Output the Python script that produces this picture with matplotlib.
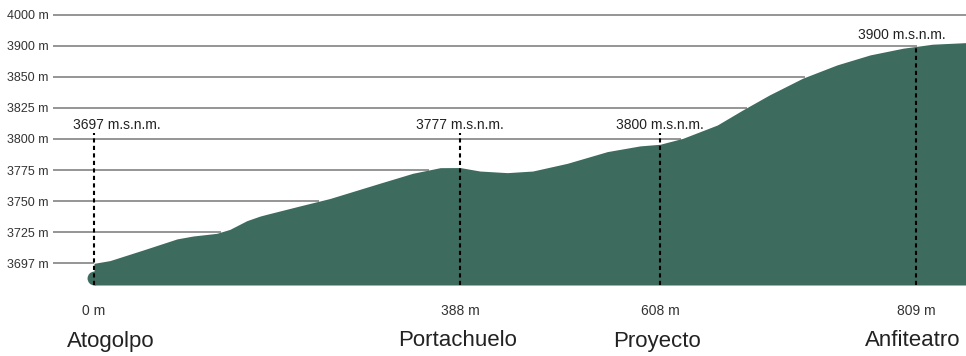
import numpy as np
import matplotlib
matplotlib.use("Agg")
import matplotlib.pyplot as plt

# elevation profile of the route (distance in m, altitude in m)
profile_dist = [0, 17, 52, 88, 105, 130, 144, 162, 176, 183, 218, 250, 303,
                338, 367, 388, 410, 440, 468, 506, 550, 586, 608, 626, 653,
                673, 694, 720, 747, 773, 799, 822, 849]
profile_elev = [3697, 3699.5, 3709, 3719, 3721.6, 3724, 3727.3, 3734.3, 3738,
                3739.4, 3746.1, 3752.1, 3764.4, 3772.4, 3776.9, 3777, 3774.2,
                3772.9, 3774.2, 3780.4, 3789.8, 3794.4, 3795.7, 3800.5, 3811.2,
                3823.3, 3835.4, 3848.8, 3869, 3885.1, 3895.9, 3904.6, 3909.8]

# stops along the route
stop_names = ["Atogolpo", "Portachuelo", "Proyecto", "Anfiteatro"]
stop_dist = [0, 388, 608, 809]
stop_elev = [3697, 3777, 3800, 3900]

# altitude axis ticks (drawn evenly spaced in the original)
elev_ticks = [3697, 3725, 3750, 3775, 3800, 3825, 3850, 3900, 4000]

GREEN = "#3d6b5e"
GRID = "#8c8c8c"
TXT = "#222222"


def piecewise(xp, fp):
    xp = np.asarray(xp, float)
    fp = np.asarray(fp, float)
    s0 = (fp[1] - fp[0]) / (xp[1] - xp[0])
    s1 = (fp[-1] - fp[-2]) / (xp[-1] - xp[-2])

    def f(v):
        v = np.asarray(v, float)
        out = np.interp(v, xp, fp)
        out = np.where(v < xp[0], fp[0] + (v - xp[0]) * s0, out)
        out = np.where(v > xp[-1], fp[-1] + (v - xp[-1]) * s1, out)
        return out
    return f


# the illustration does not use linear axes: stops and ticks are placed by hand
x_knots_pos = [0, 366, 566, 822]
y_levels = np.arange(len(elev_ticks))

plt.rcParams["font.family"] = ["Liberation Sans", "DejaVu Sans"]

fig = plt.figure(figsize=(9.66, 3.56), dpi=100)
ax = fig.add_axes([53 / 966, 1 - 285 / 356, 913 / 966, 277 / 356])

ax.set_xscale("function", functions=(piecewise(stop_dist, x_knots_pos),
                                     piecewise(x_knots_pos, stop_dist)))
ax.set_yscale("function", functions=(piecewise(elev_ticks, y_levels),
                                     piecewise(y_levels, elev_ticks)))

base = 3677.5
ax.set_xlim(-43.5, 848.3)
ax.set_ylim(base, 4021)

# gridlines stop where the terrain reaches them
d = np.array(profile_dist, float)
e = np.array(profile_elev, float)
for lev in elev_ticks:
    idx = np.nonzero(e >= lev)[0]
    if len(idx) == 0:
        xend = 848.3
    elif idx[0] == 0:
        xend = d[0]
    else:
        i = idx[0]
        xend = d[i - 1] + (lev - e[i - 1]) * (d[i] - d[i - 1]) / (e[i] - e[i - 1])
    ax.hlines(lev, -43.5, xend, color=GRID, lw=1.3, zorder=1)

ax.fill_between(profile_dist, base, profile_elev, color=GREEN, lw=0, zorder=2)
ax.scatter([0], [3684], s=100, color=GREEN, lw=0, zorder=2, clip_on=False)

# dashed markers + altitude labels
label_elev = [3811, 3811, 3811, 3934]
dash_top = [3805, 3805, 3805, 3898]
label_dx = [23, 0, 0, -14]
name_dx = [17, -2, -3, -3]
for i in range(len(stop_names)):
    ax.vlines(stop_dist[i], base, dash_top[i], color="black", lw=1.5,
              linestyles=(0, (2, 1.6)), zorder=3)
    ax.annotate(f"{stop_elev[i]} m.s.n.m.", xy=(stop_dist[i], label_elev[i]),
                xytext=(label_dx[i], 0), textcoords="offset pixels",
                ha="center", va="center", fontsize=10, color=TXT)
    ax.annotate(stop_names[i], xy=(stop_dist[i], 0),
                xycoords=("data", "axes fraction"),
                xytext=(name_dx[i], -56), textcoords="offset pixels",
                ha="center", va="center", fontsize=16, color=TXT)

ax.set_yticks(elev_ticks, labels=[f"{v} m" for v in elev_ticks])
ax.set_xticks(stop_dist, labels=[f"{v} m" for v in stop_dist])
ax.tick_params(axis="y", length=0, pad=3, labelsize=9, labelcolor="#333333")
ax.tick_params(axis="x", length=0, pad=14, labelsize=10, labelcolor="#333333")
ax.minorticks_off()
for s in ax.spines.values():
    s.set_visible(False)

fig.savefig("out.png", dpi=100)
